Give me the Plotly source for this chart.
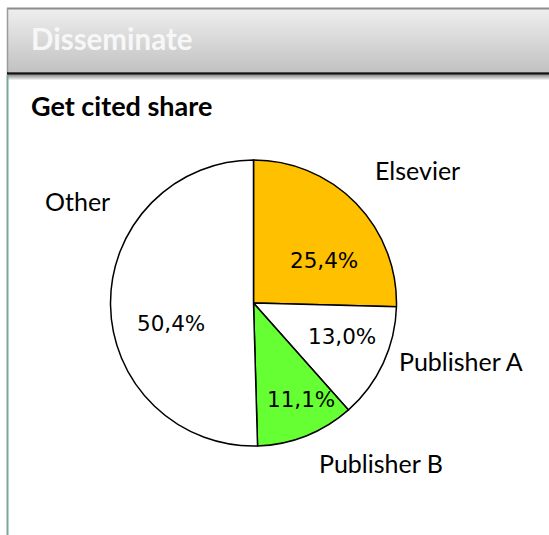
import plotly.graph_objects as go

# ---- data ----
categories = ["Elsevier", "Publisher A", "Publisher B", "Other"]
shares = [25.4, 13.0, 11.1, 50.4]
share_labels = ["25,4%", "13,0%", "11,1%", "50,4%"]
slice_colors = ["#FFC000", "#FFFFFF", "#66FF33", "#FFFFFF"]

# ---- layout (pixels) ----
W, H = 549, 535
CX, CY, R = 253.5, 303, 143
# label anchor positions (pixel) for percent labels and category labels
pct_pos = [(324, 260), (342, 336), (301, 399), (171, 323)]
name_pos = [(417, 170), (461, 361), (381, 463), (77, 201)]


def px(x):
    return x / W


def py(y):
    return 1 - y / H


fig = go.Figure()
fig.add_trace(go.Pie(
    labels=categories,
    values=shares,
    sort=False,
    direction="clockwise",
    rotation=0,
    marker=dict(colors=slice_colors, line=dict(color="black", width=1.5)),
    textinfo="none",
    hoverinfo="label+percent",
    showlegend=False,
    domain=dict(x=[px(CX - R), px(CX + R)], y=[py(CY + R), py(CY - R)]),
))

shapes = []
# header gradient
top, bot = 9, 72
n = 63
c0, c1 = 0xEE, 0xC2
for i in range(n):
    y0 = top + (bot - top) * i / n
    y1 = top + (bot - top) * (i + 1) / n
    c = round(c0 + (c1 - c0) * i / (n - 1))
    col = f"rgb({c},{c},{c})"
    shapes.append(dict(type="rect", xref="paper", yref="paper",
                       x0=px(8), x1=px(W + 5), y0=py(y1), y1=py(y0),
                       fillcolor=col, line=dict(width=0), layer="below"))
# header shadow below
for i in range(6):
    c = round(0x9a + (0xff - 0x9a) * i / 5)
    shapes.append(dict(type="rect", xref="paper", yref="paper",
                       x0=px(8), x1=px(W + 5), y0=py(75 + i + 1), y1=py(75 + i),
                       fillcolor=f"rgb({c},{c},{c})", line=dict(width=0), layer="below"))
# header top border
shapes.append(dict(type="line", xref="paper", yref="paper",
                   x0=px(7), x1=px(W + 5), y0=py(8.5), y1=py(8.5),
                   line=dict(color="#8c8c8c", width=2)))
# header left border
shapes.append(dict(type="line", xref="paper", yref="paper",
                   x0=px(7.5), x1=px(7.5), y0=py(8), y1=py(74),
                   line=dict(color="#9a9a9a", width=1.5)))
# header bottom black line
shapes.append(dict(type="line", xref="paper", yref="paper",
                   x0=px(7), x1=px(W + 5), y0=py(73.5), y1=py(73.5),
                   line=dict(color="#111111", width=2.5)))
# left vertical teal line
shapes.append(dict(type="line", xref="paper", yref="paper",
                   x0=px(7.5), x1=px(7.5), y0=py(75), y1=py(H + 2),
                   line=dict(color="#78a89a", width=2)))

annotations = [
    dict(text="<b>Disseminate</b>", x=px(29), y=py(39), xref="paper", yref="paper",
         xanchor="left", yanchor="middle", showarrow=False,
         font=dict(family="Lato", size=29.5, color="#f7f7f7")),
    dict(text="<b>Get cited share</b>", x=px(29), y=py(105), xref="paper", yref="paper",
         xanchor="left", yanchor="middle", showarrow=False,
         font=dict(family="Lato", size=27, color="black")),
]
for lab, (x, y) in zip(share_labels, pct_pos):
    annotations.append(dict(text=lab, x=px(x), y=py(y), xref="paper", yref="paper",
                            xanchor="center", yanchor="middle", showarrow=False,
                            font=dict(family="DejaVu Sans", size=21.5, color="black")))
for lab, (x, y) in zip(categories, name_pos):
    annotations.append(dict(text=lab, x=px(x), y=py(y), xref="paper", yref="paper",
                            xanchor="center", yanchor="middle", showarrow=False,
                            font=dict(family="Lato", size=25, color="black")))

fig.update_layout(
    width=W, height=H, autosize=False,
    margin=dict(l=0, r=0, t=0, b=0),
    paper_bgcolor="white", plot_bgcolor="white",
    shapes=shapes, annotations=annotations,
)

fig.write_html("out.html", config={"displayModeBar": False},
               post_script="document.body.style.margin='0';document.body.style.overflow='hidden';")
